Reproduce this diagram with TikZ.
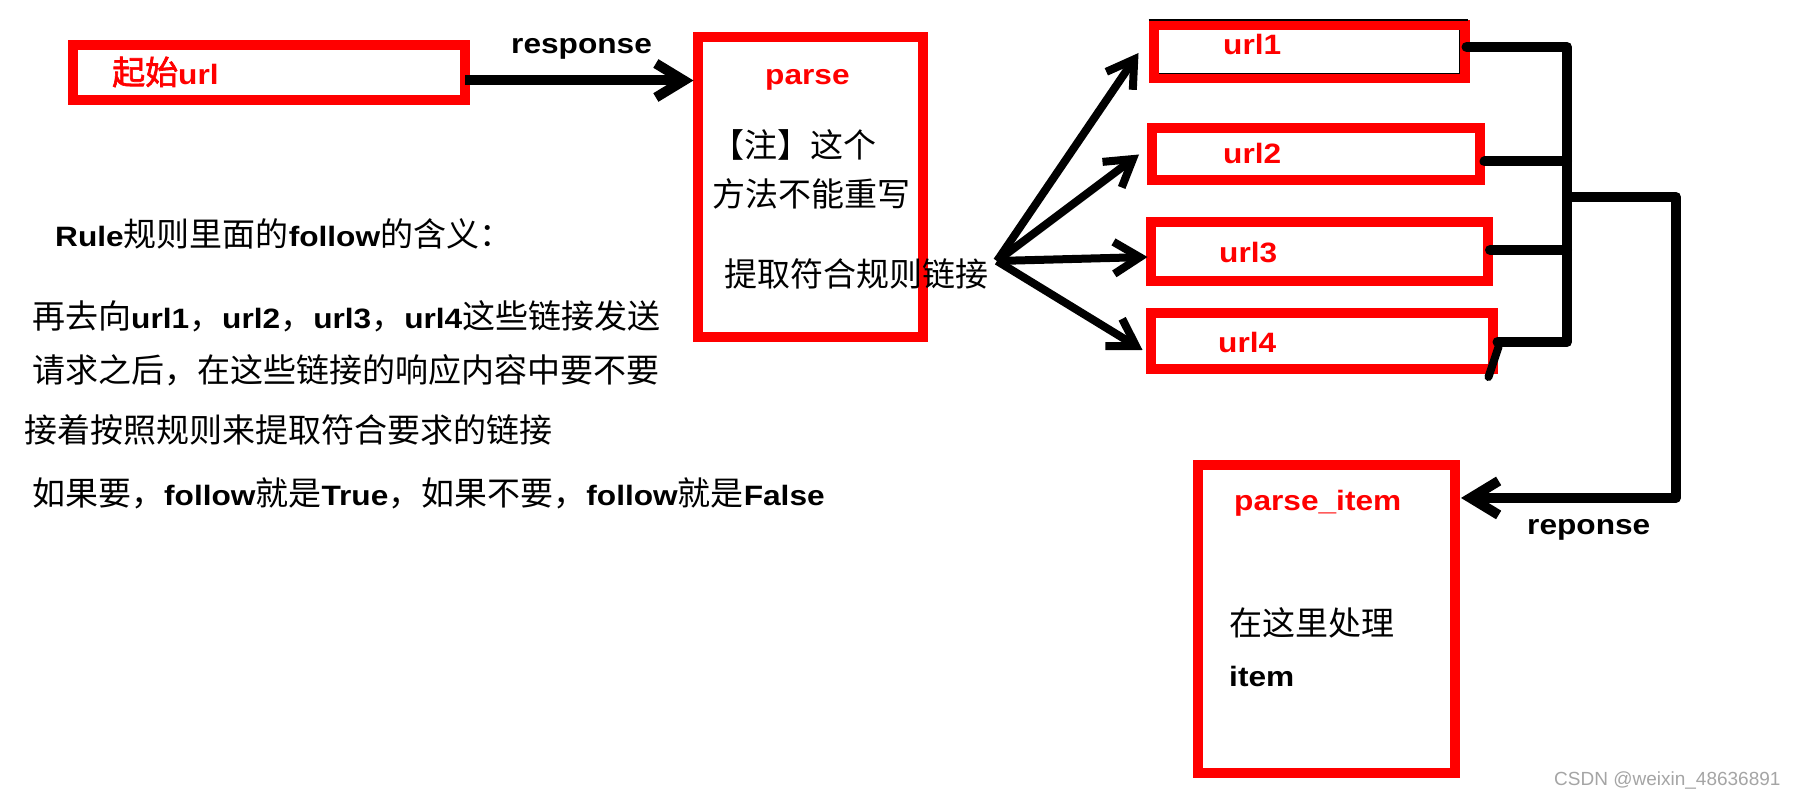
\documentclass[tikz,border=0pt]{standalone}
\usepackage{fontspec}
\usetikzlibrary{arrows.meta,calc}
\newfontfamily\latf{Liberation Sans}[FakeStretch=1.13]
\newfontfamily\cjkf{Noto Sans CJK SC}
\newfontfamily\cjkbf{Noto Sans CJK SC}[FakeBold=2]
\newfontfamily\wmf{Liberation Sans}
\definecolor{boxred}{RGB}{255,0,0}
\definecolor{wmgray}{RGB}{165,165,165}
\newcommand\zh[1]{{\fontsize{33}{38}\selectfont\cjkf\mdseries #1}}
\newcommand\zhb[1]{{\fontsize{33}{38}\selectfont\cjkbf\mdseries #1}}
\begin{document}
\begin{tikzpicture}[x=1pt,y=-1pt,
  redbox/.style={draw=boxred, line width=10pt, rectangle, inner sep=0pt, outer sep=0pt},
  txt/.style={anchor=west, inner sep=0pt, font=\latf\bfseries\fontsize{28}{34}\selectfont, text=black},
  rtxt/.style={txt, text=boxred},
  tipa/.tip={Straight Barb[length=26pt,width=32pt,line width=8pt]},
  tipb/.tip={Straight Barb[length=28pt,width=34pt,line width=10pt]},
  arr/.style={line width=8pt, -tipa},
  conn/.style={line width=10pt, line join=round, line cap=round}]
\fill[white] (0,0) rectangle (1799,799);
\useasboundingbox (0,0) rectangle (1799,799);

% boxes
\node[redbox, minimum width=392.5pt, minimum height=55pt] (s) at (268.75,72.5) {};
\node[redbox, minimum width=225.5pt, minimum height=300pt] (p) at (810.25,187) {};
\node[redbox, minimum width=311pt, minimum height=53pt] (u1) at (1309,52) {};
\node[redbox, minimum width=327.5pt, minimum height=52pt] (u2) at (1315.75,154.5) {};
\node[redbox, minimum width=337.5pt, minimum height=59pt] (u3) at (1319.25,252) {};
\node[redbox, minimum width=342pt, minimum height=56pt] (u4) at (1321.5,341) {};
\node[redbox, minimum width=257pt, minimum height=308pt] (pi) at (1326.5,619) {};

% thin black marks on url1
\draw[line width=1.5pt] ($(u1.north west)+(-5,-5.5)$) -- ($(u1.north east)+(3,-5.5)$);
\draw[line width=1.5pt] ($(u1.north east)+(-5,5)$) -- ($(u1.south east)+(-5,-5)$) -- ($(u1.south west)+(5,-5)$);

% texts in boxes
\node[rtxt] (ts) at (112,72) {\zhb{起始}url};
\node[rtxt] (tp) at (765,80) {parse};
\node[txt] (tn1) at (711,145) {\zh{【注】这个}};
\node[txt] (tn2) at (712,194) {\zh{方法不能重写}};
\node[txt] (tn3) at (724,274) {\zh{提取符合规则链接}};
\node[rtxt] (t1) at (1223,44) {url1};
\node[rtxt] (t2) at (1223,153) {url2};
\node[rtxt] (t3) at (1219,253) {url3};
\node[rtxt] (t4) at (1218,342) {url4};
\node[rtxt] (tpi) at (1234,503) {parse\_item};
\node[txt] (tpi1) at (1229,623) {\zh{在这里处理}};
\node[txt] (tpi2) at (1229,676) {item};

% labels
\node[txt] (lresp) at (511,49) {response};
\node[txt] (lrep) at (1527,530) {reponse};

% left explanation
\node[txt] (e0) at (55,234) {Rule\zh{规则里面的}follow\zh{的含义：}};
\node[txt] (e1) at (32,316) {\zh{再去向}url1\zh{，}url2\zh{，}url3\zh{，}url4\zh{这些链接发送}};
\node[txt] (e2) at (32,370) {\zh{请求之后，在这些链接的响应内容中要不要}};
\node[txt] (e3) at (24,430) {\zh{接着按照规则来提取符合要求的链接}};
\node[txt] (e4) at (32,493) {\zh{如果要，}follow\zh{就是}True\zh{，如果不要，}follow\zh{就是}False};

% watermark
\node[anchor=west, inner sep=0pt, font=\wmf\fontsize{19}{22}\selectfont, text=wmgray] (wm) at (1554,780) {CSDN @weixin\_48636891};

% arrows
\coordinate (sa) at ($(s.east)+(0,8)$);
\draw[line width=10pt, -tipb] (sa) -- ($(sa -| p.west)+(-4,0)$);
\coordinate (fan) at (997,261);
\draw[arr] (fan) -- ($(u1.west)+(-15,1)$);
\draw[arr] (fan) -- ($(u2.west)+(-13,0)$);
\draw[arr] (fan) -- ($(u3.west)+(-3,5)$);
\draw[arr] (fan) -- ($(u4.west)+(-8,9)$);

% right connectors
\coordinate (bus) at (1567,0);
\coordinate (rx) at (1676,0);
\coordinate (a1) at ($(u1.east)+(2,-5)$);
\coordinate (a2) at ($(u2.east)+(5,7)$);
\coordinate (a3) at ($(u3.east)+(2,-2)$);
\coordinate (a4) at ($(u4.east)+(5,1)$);
\draw[conn] (a1) -- (a1 -| bus) -- (a4 -| bus) -- (a4);
\draw[conn] (a2) -- (a2 -| bus);
\draw[conn] (a3) -- (a3 -| bus);
\draw[line width=8pt, line cap=round] ($(u4.east)+(6,6)$) -- ($(u4.east)+(-4,36)$);
\coordinate (busm) at (1567,197);
\coordinate (pin) at ($(pi.north east)!0.107!(pi.south east)+(6,0)$);
\draw[line width=10pt, line join=round, -tipb] (busm) -- (busm -| rx) |- (pin);
\end{tikzpicture}
\end{document}
